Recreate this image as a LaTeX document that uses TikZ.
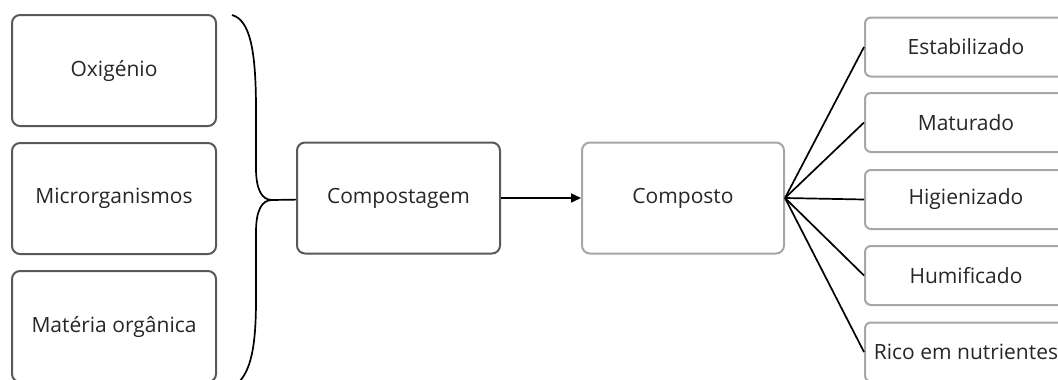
\documentclass[tikz,border=0pt]{standalone}
\usepackage{fontspec}
\setmainfont{Open Sans}
\usetikzlibrary{arrows.meta}
\definecolor{darkbox}{HTML}{595959}
\definecolor{lightbox}{HTML}{A6A6A6}
\definecolor{txt}{HTML}{262626}

\begin{document}
\begin{tikzpicture}[x=1pt, y=-1pt,
	font=\fontsize{21}{25}\selectfont, text=txt,
	inbox/.style={draw=darkbox, line width=2pt, rounded corners=8pt, minimum width=204pt, minimum height=111pt, inner sep=0pt},
	outbox/.style={draw=lightbox, line width=2pt, rounded corners=6pt, minimum width=202pt, minimum height=59pt, inner sep=0pt},
	link/.style={line width=1.7pt}]
	\useasboundingbox (0, 0) rectangle (1058, 380);

	% Inputs
	\node[inbox] (oxig) at (114, 70.5) {Oxigénio};
	\node[inbox] (micro) at (114, 198.5) {Microrganismos};
	\node[inbox] (materia) at (114, 326.5) {Matéria orgânica};

	% Process and product
	\node[inbox, minimum width=203pt] (compostagem) at (398.5, 198) {Compostagem};
	\node[inbox, draw=lightbox, minimum width=202pt] (composto) at (683, 198) {Composto};

	% Properties of the product
	\node[outbox] (estab) at (966, 47) {Estabilizado};
	\node[outbox] (maturado) at (966, 122.5) {Maturado};
	\node[outbox] (higien) at (966, 199.5) {Higienizado};
	\node[outbox] (humif) at (966, 275.5) {Humificado};
	\node[outbox] (rico) at (966, 352) {Rico em nutrientes};

	% Brace joining the inputs
	\coordinate (tip) at (272, 200);
	\draw[link] (232, 15) .. controls (250, 20) and (256, 50) .. (256, 110)
		-- (256, 168) .. controls (256, 190) and (262, 200) .. (tip)
		.. controls (262, 200) and (256, 210) .. (256, 232)
		-- (256, 300) .. controls (256, 350) and (250, 372) .. (237, 384);
	\draw[link] (tip) -- (compostagem);

	% Connections
	\draw[link, -{Triangle[length=10pt, width=9pt]}] (compostagem) -- (composto);
	\foreach \n in {estab, maturado, higien, humif, rico}
		\draw[link] (composto.east) -- (\n.west);
\end{tikzpicture}
\end{document}
